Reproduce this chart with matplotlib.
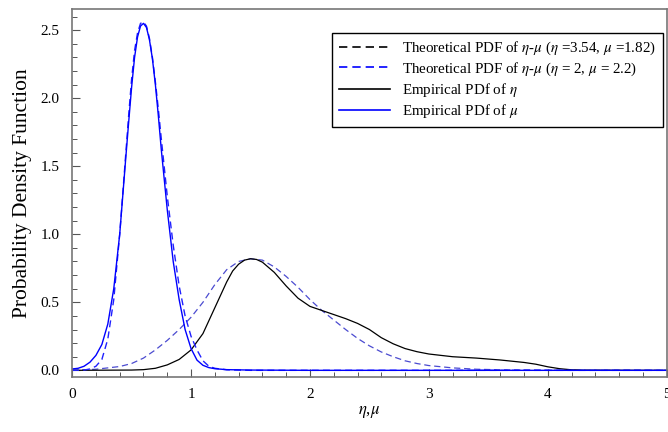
import matplotlib
matplotlib.use("Agg")
import matplotlib.pyplot as plt
from matplotlib.lines import Line2D
from matplotlib.ticker import MultipleLocator

plt.rcParams['font.family'] = ['Liberation Serif', 'DejaVu Serif']
plt.rcParams['mathtext.fontset'] = 'stix'

# Empirical PDF of mu (narrow, solid blue)
x_emp_mu = [0, 0.05, 0.1, 0.15, 0.2, 0.25, 0.3, 0.35, 0.4, 0.45, 0.475, 0.5, 0.525,
            0.55, 0.575, 0.6, 0.625, 0.65, 0.675, 0.7, 0.725, 0.75, 0.8, 0.85, 0.9,
            0.95, 1.0, 1.05, 1.1, 1.15, 1.2, 1.3, 1.5, 2, 3, 4, 5]
y_emp_mu = [0.01, 0.015, 0.03, 0.06, 0.11, 0.19, 0.34, 0.6, 1.0, 1.55, 1.82, 2.08, 2.3,
            2.45, 2.53, 2.55, 2.52, 2.43, 2.29, 2.1, 1.87, 1.62, 1.18, 0.8, 0.52,
            0.3, 0.16, 0.075, 0.037, 0.02, 0.012, 0.005, 0.002, 0, 0, 0, 0]

# Theoretical eta-mu PDF (eta=2, mu=2.2), narrow dashed
x_th_mu = [0, 0.1, 0.15, 0.2, 0.25, 0.3, 0.35, 0.4, 0.45, 0.475, 0.5, 0.525, 0.55,
           0.575, 0.6, 0.625, 0.65, 0.675, 0.7, 0.725, 0.75, 0.8, 0.85, 0.9, 0.95,
           1.0, 1.05, 1.1, 1.15, 1.2, 1.3, 1.5, 2, 5]
y_th_mu = [0, 0.002, 0.01, 0.03, 0.08, 0.23, 0.52, 1.0, 1.58, 1.87, 2.14, 2.35, 2.48,
           2.55, 2.56, 2.53, 2.44, 2.3, 2.12, 1.92, 1.7, 1.28, 0.92, 0.62, 0.4,
           0.25, 0.15, 0.07, 0.03, 0.015, 0.004, 0, 0, 0]

# Theoretical eta-mu PDF (eta=3.54, mu=1.82), broad dashed
x_th_eta = [0, 0.2, 0.4, 0.5, 0.6, 0.7, 0.8, 0.9, 1.0, 1.1, 1.2, 1.3, 1.4, 1.5, 1.6,
            1.7, 1.8, 1.9, 2.0, 2.1, 2.2, 2.3, 2.4, 2.5, 2.6, 2.7, 2.8, 2.9, 3.0,
            3.2, 3.4, 3.6, 4.0, 5]
y_th_eta = [0, 0.008, 0.028, 0.05, 0.09, 0.15, 0.22, 0.3, 0.39, 0.5, 0.63, 0.74, 0.8,
            0.82, 0.81, 0.76, 0.69, 0.61, 0.52, 0.44, 0.37, 0.3, 0.235, 0.18, 0.135,
            0.1, 0.07, 0.05, 0.035, 0.018, 0.008, 0.004, 0.001, 0]

# Empirical PDF of eta (broad, solid black)
x_emp_eta = [0, 0.5, 0.6, 0.7, 0.8, 0.9, 1.0, 1.1, 1.2, 1.3, 1.35, 1.4, 1.45, 1.5,
             1.55, 1.6, 1.7, 1.8, 1.9, 2.0, 2.1, 2.2, 2.3, 2.4, 2.5, 2.6, 2.7, 2.8,
             2.9, 3.0, 3.2, 3.4, 3.6, 3.8, 3.9, 4.0, 4.1, 4.2, 4.3, 5]
y_emp_eta = [0, 0.002, 0.005, 0.015, 0.04, 0.08, 0.15, 0.27, 0.46, 0.65, 0.73, 0.78,
             0.81, 0.82, 0.815, 0.795, 0.72, 0.62, 0.53, 0.47, 0.44, 0.41, 0.38,
             0.345, 0.3, 0.24, 0.195, 0.16, 0.137, 0.12, 0.1, 0.09, 0.076, 0.058,
             0.045, 0.026, 0.012, 0.004, 0.001, 0]

legend_labels = [
    r'Theoretical PDF of $\eta$-$\mu$ ($\eta$ =3.54, $\mu$ =1.82)',
    r'Theoretical PDF of $\eta$-$\mu$ ($\eta$ = 2, $\mu$ = 2.2)',
    r'Empirical PDf of $\eta$',
    r'Empirical PDf of $\mu$',
]

fig = plt.figure(figsize=(6.68, 4.32), dpi=100)
ax = fig.add_axes([0.108, 0.127, 0.890, 0.852])

dash = (5, 3)
ax.plot(x_th_eta, y_th_eta, color='#4b4bd0', lw=0.9, dashes=dash)
ax.plot(x_emp_eta, y_emp_eta, color='black', lw=0.9)
ax.plot(x_th_mu, y_th_mu, color='#2020ff', lw=1.0, dashes=dash)
ax.plot(x_emp_mu, y_emp_mu, color='blue', lw=1.0)

ax.set_xlim(0, 5)
ax.set_ylim(-0.05, 2.655)
ax.xaxis.set_major_locator(MultipleLocator(1))
ax.xaxis.set_minor_locator(MultipleLocator(0.2))
ax.yaxis.set_major_locator(MultipleLocator(0.5))
ax.yaxis.set_minor_locator(MultipleLocator(0.1))
ax.yaxis.set_major_formatter(plt.FormatStrFormatter('%.1f'))
ax.xaxis.set_major_formatter(plt.FormatStrFormatter('%d'))

ax.tick_params(which='both', direction='in', top=False, right=False,
               color='#555555', labelsize=11)
ax.tick_params(which='major', length=6, width=0.8)
ax.tick_params(which='minor', length=3.5, width=0.7)
ax.tick_params(axis='y', pad=9)
ax.tick_params(axis='x', pad=8)
for s in ax.spines.values():
    s.set_color('#777777')
    s.set_linewidth(1.2)

ax.set_xlabel(r'$\eta$,$\mu$', fontsize=12, labelpad=2)
ax.set_ylabel('Probability Density Function', fontsize=15.5, labelpad=6)

handles = [
    Line2D([], [], color='black', lw=1.2, dashes=dash),
    Line2D([], [], color='blue', lw=1.2, dashes=dash),
    Line2D([], [], color='black', lw=1.2),
    Line2D([], [], color='blue', lw=1.2),
]
leg = ax.legend(handles, legend_labels, loc='upper right',
                bbox_to_anchor=(0.993, 0.935), borderaxespad=0, fontsize=10.8,
                handlelength=3.4, fancybox=False, framealpha=1,
                edgecolor='black', borderpad=0.45, labelspacing=0.22,
                handletextpad=0.8)
leg.get_frame().set_linewidth(1.0)

fig.savefig('out.png', dpi=100)
